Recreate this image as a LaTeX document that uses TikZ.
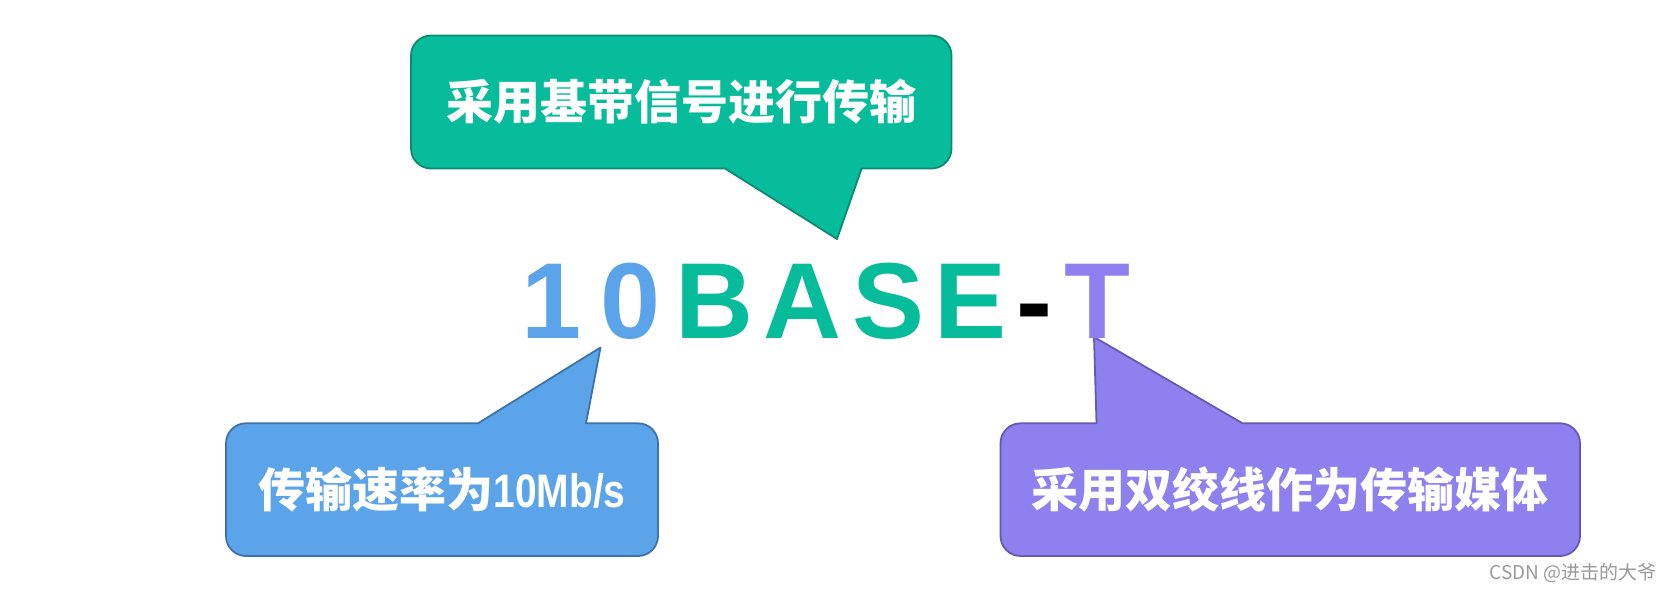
\documentclass[tikz,border=0pt]{standalone}
\usepackage{fontspec}
\newfontfamily\cjk{Noto Sans CJK SC}
\newfontfamily\arialb{Liberation Sans}
\definecolor{tealfill}{HTML}{06BC9A}
\definecolor{tealline}{HTML}{0F8A72}
\definecolor{bluefill}{HTML}{5CA4E9}
\definecolor{blueline}{HTML}{3E72AB}
\definecolor{purpfill}{HTML}{8F80EF}
\definecolor{purpline}{HTML}{6758B4}
\definecolor{wmgray}{HTML}{9A9A9A}
\tikzset{
  calloutbox/.style={line width=1.8pt, line join=round},
  calltext/.style={text=white, inner sep=0pt, font=\cjk\bfseries\fontsize{47}{50}\selectfont},
  bigletter/.style={anchor=base, inner sep=0pt, font=\arialb\bfseries\fontsize{108}{110}\selectfont},
  wmark/.style={text=wmgray, inner sep=0pt, anchor=east, font=\cjk\fontsize{19}{21}\selectfont}
}
\begin{document}
\begin{tikzpicture}[x=1pt,y=-1pt]
\useasboundingbox (0,0) rectangle (1672,594);
\fill[white] (0,0) rectangle (1672,594);

% top callout
\draw[calloutbox, fill=tealfill, draw=tealline]
  (837,239) -- (861.6,168.5) -- (880,168.5) [rounded corners=20pt] -- (951.5,168.5) -- (951.5,35.5) -- (411,35.5) -- (411,168.5) -- (700,168.5) [sharp corners] -- (725,168.5) -- cycle;
\node[calltext] (ttop) at (681.5,102) {采用基带信号进行传输};

% left callout
\draw[calloutbox, fill=bluefill, draw=blueline]
  (600.5,347.5) -- (586,423.3) -- (610,423.3) [rounded corners=20pt] -- (658,423.3) -- (658,556) -- (226,556) -- (226,423.3) -- (450,423.3) [sharp corners] -- (478,423.3) -- cycle;
\node[calltext] (tleft) at (442,490) {传输速率为\arialb\bfseries\scalebox{0.83}[1]{10Mb/s}};

% right callout
\draw[calloutbox, fill=purpfill, draw=purpline]
  (1094,337) -- (1242.5,423.3) -- (1270,423.3) [rounded corners=20pt] -- (1580,423.3) -- (1580,556) -- (1000.5,556) -- (1000.5,423.3) -- (1060,423.3) [sharp corners] -- (1096.5,423.3) -- cycle;
\node[calltext] (tright) at (1290,490) {采用双绞线作为传输媒体};

% big title
\node[bigletter, text=bluefill] (c1) at (551.5,338) {1};
\node[bigletter, text=bluefill] (c2) at (631,338) {0};
\node[bigletter, text=tealfill] (c3) at (714,338) {B};
\node[bigletter, text=tealfill] (c4) at (802.5,338) {A};
\node[bigletter, text=tealfill] (c5) at (889,338) {S};
\node[bigletter, text=tealfill] (c6) at (971,338) {E};
\node[bigletter, text=black] (c7) at (1034.5,338) {-};
\node[bigletter, text=purpfill] (c8) at (1097,338) {T};

% watermark
\node[wmark] (wm) at (1657,573) {CSDN @进击的大爷};
\end{tikzpicture}
\end{document}
